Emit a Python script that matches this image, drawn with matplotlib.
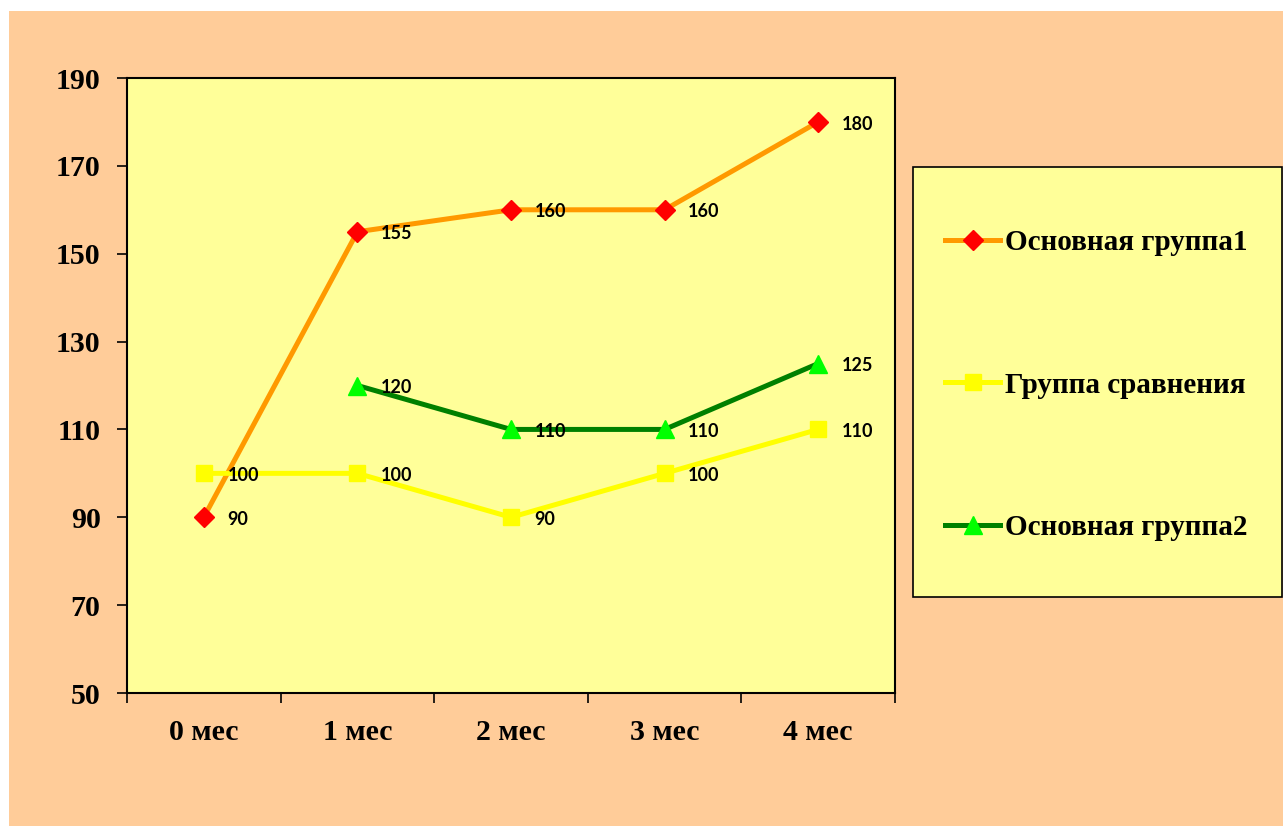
import numpy as np
import matplotlib
matplotlib.use('Agg')
import matplotlib.pyplot as plt
from matplotlib.patches import Rectangle

months = ['0 мес', '1 мес', '2 мес', '3 мес', '4 мес']
osn1 = [90, 155, 160, 160, 180]
sravn = [100, 100, 90, 100, 110]
osn2 = [np.nan, 120, 110, 110, 125]
names = ['Основная группа1', 'Группа сравнения', 'Основная группа2']

W, H = 1283, 826
fig = plt.figure(figsize=(W / 100, H / 100), dpi=100, facecolor='white')

# фон слайда
fig.patches.append(Rectangle((9 / W, 0), 1, (H - 11) / H, transform=fig.transFigure,
                             facecolor='#FFCC99', edgecolor='none', zorder=-10))

ax = fig.add_axes([127 / W, (H - 693) / H, 768 / W, 615 / H])
ax.set_facecolor('#FFFF99')

x = np.arange(len(months))
ax.plot(x, osn1, color='#FF9900', lw=3.6, marker='D', ms=10,
        mfc='#FF0000', mec='#FF0000', label=names[0], zorder=3)
ax.plot(x, sravn, color='#FFFF00', lw=3.6, marker='s', ms=12,
        mfc='#FFFF00', mec='#FFFF00', label=names[1], zorder=3)
ax.plot(x, osn2, color='#008000', lw=3.6, marker='^', ms=13,
        mfc='#00FF00', mec='#00FF00', label=names[2], zorder=3)

# подписи значений
for ser in (osn1, sravn, osn2):
    for xi, v in zip(x, ser):
        if np.isnan(v):
            continue
        ax.annotate('%d' % v, (xi, v), xytext=(17, -1.5), textcoords='offset points',
                    ha='left', va='center', fontsize=13, fontweight='bold',
                    family='Lato', color='black', zorder=5)

ax.set_xlim(-0.5, 4.5)
ax.set_ylim(50, 190)
ax.set_yticks(range(50, 191, 20))
ax.set_xticks(x)
ax.set_xticklabels(months)
ax.set_xticks(np.arange(-0.5, 4.6, 1), minor=True)
ax.tick_params(axis='x', which='major', length=0, pad=19)
ax.tick_params(axis='x', which='minor', length=7, width=1.2, direction='out')
ax.tick_params(axis='y', length=7, width=1.2, direction='out', pad=12)
for lab in ax.get_xticklabels() + ax.get_yticklabels():
    lab.set_family('Liberation Serif')
    lab.set_fontweight('bold')
    lab.set_fontsize(21.5)
for s in ax.spines.values():
    s.set_color('black')
    s.set_linewidth(1.5)

# рамка легенды
fig.patches.append(Rectangle((913 / W, (H - 597) / H), 369 / W, 430 / H,
                             transform=fig.transFigure, facecolor='#FFFF99',
                             edgecolor='black', lw=1.2, zorder=1))
leg = fig.legend(loc='center left', bbox_to_anchor=(945 / W, (H - 385) / H),
                 frameon=False, borderpad=0, borderaxespad=0, labelspacing=3.95,
                 handlelength=1.9, handletextpad=0.15,
                 prop={'family': 'Liberation Serif', 'weight': 'bold', 'size': 21})
leg.set_zorder(2)

fig.savefig('out.png', dpi=100, facecolor=fig.get_facecolor())
